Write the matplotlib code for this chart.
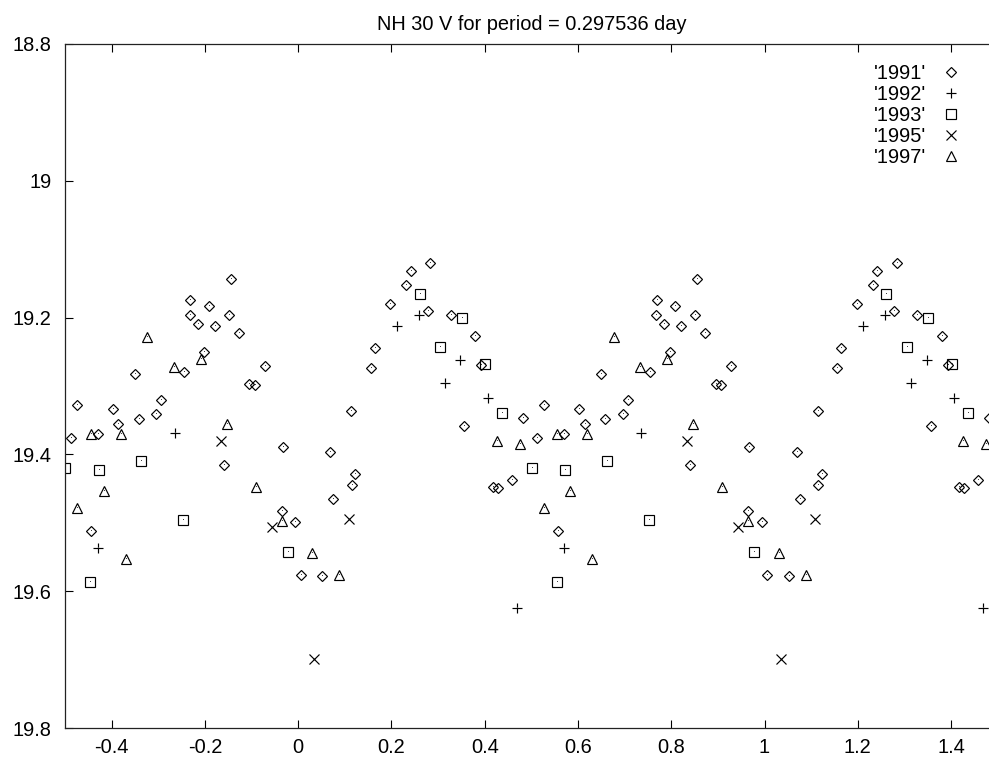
import numpy as np
import matplotlib
matplotlib.use("Agg")
import matplotlib.pyplot as plt
from matplotlib.ticker import FuncFormatter

plt.rcParams['font.family'] = ['Liberation Sans', 'DejaVu Sans']

title = "NH 30 V for period = 0.297536 day"
labels = ["'1991'", "'1992'", "'1993'", "'1995'", "'1997'"]

# phases in [0,1) and V magnitudes
ph_1991 = [0.2835, 0.2421, 0.2321, 0.1978, 0.2786, 0.3278, 0.3799, 0.1641, 0.1556, 0.3928,
           0.1136, 0.4813, 0.3563, 0.0692, 0.1228, 0.1157, 0.0756, 0.9942, 0.0056, 0.0521,
           0.4178, 0.4277, 0.4577, 0.8562, 0.7684, 0.8091, 0.7671, 0.8513, 0.7842, 0.8213,
           0.8727, 0.7971, 0.9284, 0.6499, 0.7542, 0.8956, 0.9070, 0.7062, 0.5263, 0.6027,
           0.6955, 0.6585, 0.6141, 0.5121, 0.5706, 0.9664, 0.8406, 0.9655, 0.5562]
v_1991 = [19.120, 19.132, 19.152, 19.180, 19.190, 19.196, 19.227, 19.244, 19.274, 19.269,
          19.336, 19.347, 19.359, 19.396, 19.428, 19.444, 19.465, 19.498, 19.576, 19.577,
          19.448, 19.449, 19.438, 19.143, 19.174, 19.183, 19.197, 19.197, 19.209, 19.212,
          19.222, 19.250, 19.271, 19.283, 19.279, 19.297, 19.299, 19.320, 19.328, 19.333,
          19.341, 19.348, 19.355, 19.376, 19.370, 19.389, 19.415, 19.483, 19.512]

ph_1992 = [0.2584, 0.2121, 0.3478, 0.3141, 0.4063, 0.4684, 0.7349, 0.5706]
v_1992 = [19.196, 19.212, 19.262, 19.296, 19.318, 19.624, 19.368, 19.536]

ph_1993 = [0.2606, 0.3514, 0.3049, 0.4013, 0.4363, 0.5005, 0.5727, 0.6621, 0.7527, 0.9784, 0.5541]
v_1993 = [19.166, 19.200, 19.243, 19.268, 19.339, 19.420, 19.422, 19.410, 19.496, 19.543, 19.586]

ph_1995 = [0.1093, 0.0349, 0.8342, 0.9441]
v_1995 = [19.494, 19.699, 19.380, 19.506]

ph_1997 = [0.4255, 0.4748, 0.0306, 0.0879, 0.6762, 0.7913, 0.7328, 0.8476, 0.5550, 0.6192,
           0.9085, 0.5835, 0.5263, 0.9655, 0.6300]
v_1997 = [19.380, 19.385, 19.544, 19.576, 19.228, 19.261, 19.272, 19.355, 19.370, 19.370,
          19.447, 19.453, 19.478, 19.497, 19.552]

series = [(ph_1991, v_1991), (ph_1992, v_1992), (ph_1993, v_1993), (ph_1995, v_1995), (ph_1997, v_1997)]
markers = ['D', '+', 's', 'x', '^']
msizes = [5.2, 6.8, 7.2, 7.2, 7.2]

xticks = [-0.4, -0.2, 0, 0.2, 0.4, 0.6, 0.8, 1, 1.2, 1.4]
yticks = [18.8, 19.0, 19.2, 19.4, 19.6, 19.8]

W, H = 989, 765
fig = plt.figure(figsize=(W / 100, H / 100), dpi=100)
ax = fig.add_axes([65 / W, (H - 728.3) / H, (997.7 - 65) / W, 684.6 / H])
ax.set_xlim(-0.5, 1.5)
ax.set_ylim(19.8, 18.8)

for (ph, v), m, ms, lab in zip(series, markers, msizes, labels):
    ph = np.asarray(ph)
    v = np.asarray(v)
    xs = np.concatenate([ph - 1, ph, ph + 1])
    ys = np.concatenate([v, v, v])
    ax.plot(xs, ys, linestyle='none', marker=m, markersize=ms, markerfacecolor='none',
            markeredgecolor='black', markeredgewidth=0.85, label=lab)
    ax.plot(xs, ys, linestyle='none', marker=',', color='#444444')

ax.set_xticks(xticks)
ax.set_yticks(yticks)
ax.xaxis.set_major_formatter(FuncFormatter(lambda v, p: "%g" % round(v, 3)))
ax.yaxis.set_major_formatter(FuncFormatter(lambda v, p: "%g" % round(v, 3)))
ax.tick_params(direction='in', length=6, width=0.8, top=True, right=True,
               labelsize=14.4, colors='black')
ax.tick_params(axis='y', pad=9.5)
ax.tick_params(axis='x', pad=7)
for s in ax.spines.values():
    s.set_linewidth(0.9)
    s.set_color('#222222')

ax.set_title(title, fontsize=14.4, pad=10)

ax.legend(loc='upper right', bbox_to_anchor=(960.7 / W, 1 - 64 / H),
          bbox_transform=fig.transFigure, markerfirst=False, frameon=False,
          fontsize=14.4, handlelength=1.0, handletextpad=0.75, labelspacing=0.1,
          borderaxespad=0, borderpad=0, markerscale=1.0)

fig.savefig("out.png", dpi=100)
